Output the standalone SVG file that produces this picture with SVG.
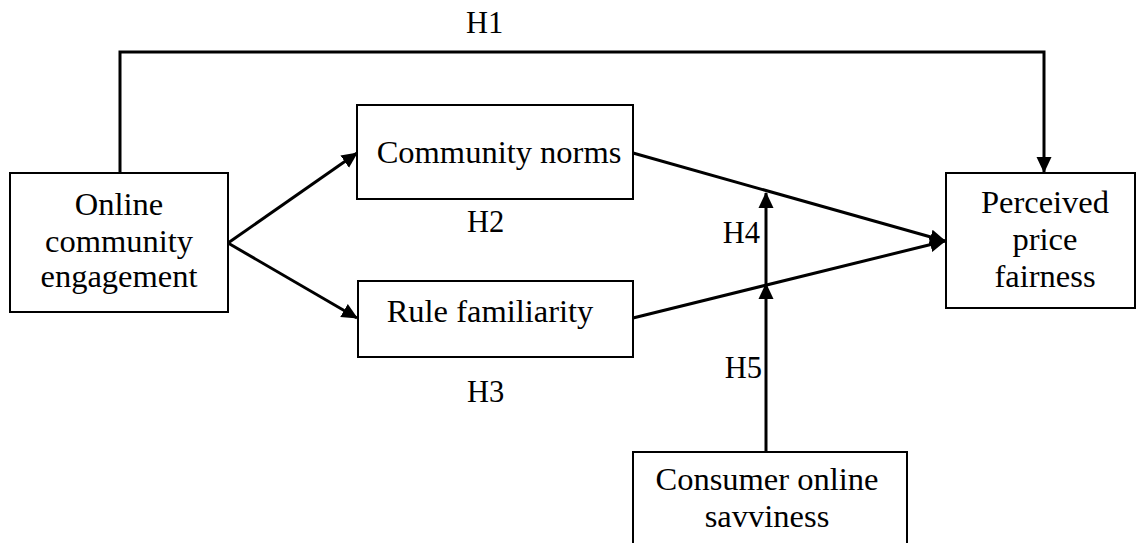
<svg xmlns="http://www.w3.org/2000/svg" width="1136" height="543" viewBox="0 0 1136 543">
  <style>
    .box { fill: #fff; stroke: #000; stroke-width: 2; }
    .lbl { font-family: "Liberation Serif", "Times New Roman", serif; font-size: 32.5px; fill: #000; text-anchor: middle; }
    .hyp { font-family: "Liberation Serif", "Times New Roman", serif; font-size: 30.5px; fill: #000; }
    .edge { fill: none; stroke: #000; stroke-width: 3; }
  </style>
  <defs>
    <marker id="arrow" markerUnits="userSpaceOnUse" markerWidth="16" markerHeight="16" viewBox="0 0 16 16" refX="15" refY="8" orient="auto">
      <path d="M0,0.5 L16,8 L0,15.5 Z" fill="#000"/>
    </marker>
  </defs>

  <rect width="1136" height="543" fill="#fff"/>

  <!-- connectors -->
  <g id="connectors">
    <path class="edge" d="M120,173 V52 H1044 V172" marker-end="url(#arrow)"/>
    <path class="edge" d="M228,243 L357,153" marker-end="url(#arrow)"/>
    <path class="edge" d="M228,243 L357,318" marker-end="url(#arrow)"/>
    <path class="edge" d="M633,153 L945,241" marker-end="url(#arrow)"/>
    <path class="edge" d="M633,318 L945,241" marker-end="url(#arrow)"/>
    <path class="edge" d="M766,452 L766,284" marker-end="url(#arrow)"/>
    <path class="edge" d="M766,284 L766,193" marker-end="url(#arrow)"/>
  </g>

  <!-- hypothesis labels -->
  <g id="labels">
    <text class="hyp" x="466" y="33">H1</text>
    <text class="hyp" x="467" y="232">H2</text>
    <text class="hyp" x="467" y="402">H3</text>
    <text class="hyp" x="760" y="243" text-anchor="end">H4</text>
    <text class="hyp" x="762" y="378" text-anchor="end">H5</text>
  </g>

  <g id="node-engagement">
    <rect class="box" x="10" y="173" width="218" height="139"/>
    <text class="lbl" x="119" y="215">Online</text>
    <text class="lbl" x="119" y="252">community</text>
    <text class="lbl" x="119" y="287">engagement</text>
  </g>

  <g id="node-norms">
    <rect class="box" x="357" y="105" width="276" height="94"/>
    <text class="lbl" x="499" y="163">Community norms</text>
  </g>

  <g id="node-rules">
    <rect class="box" x="358" y="281" width="275" height="76"/>
    <text class="lbl" x="490" y="322">Rule familiarity</text>
  </g>

  <g id="node-fairness">
    <rect class="box" x="946" y="173" width="189" height="135"/>
    <text class="lbl" x="1045" y="213">Perceived</text>
    <text class="lbl" x="1045" y="250">price</text>
    <text class="lbl" x="1045" y="287">fairness</text>
  </g>

  <g id="node-savviness">
    <rect class="box" x="633" y="452" width="274" height="100"/>
    <text class="lbl" x="767" y="490">Consumer online</text>
    <text class="lbl" x="767" y="527">savviness</text>
  </g>
</svg>
